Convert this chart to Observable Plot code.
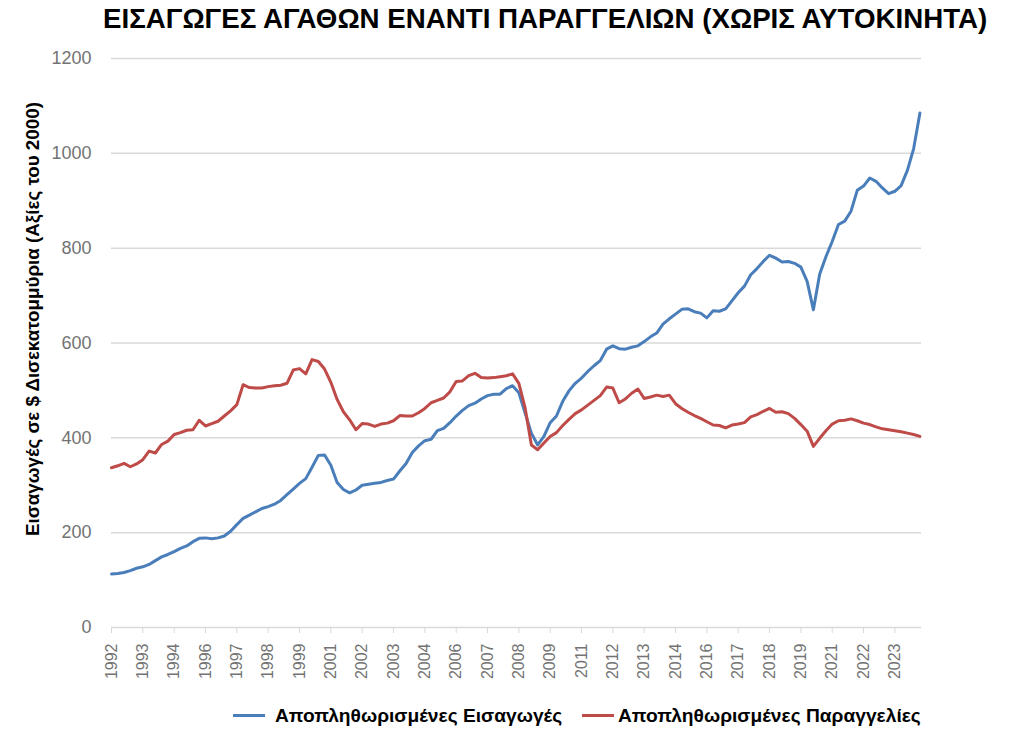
<!DOCTYPE html>
<html>
<head>
<meta charset="utf-8">
<script src="https://cdn.jsdelivr.net/npm/d3@7"></script>
<script src="https://cdn.jsdelivr.net/npm/@observablehq/plot@0.6"></script>
<style>
  body { margin: 0; background: #fff; font-family: "Liberation Sans", Arial, sans-serif; }
  #wrap { position: relative; width: 1024px; height: 744px; overflow: hidden; }
  #title { position: absolute; left: 103px; top: 5px; font-size: 27.7px; line-height: 27px; font-weight: bold; color: #000; white-space: nowrap; }
  #chart { position: absolute; left: 0; top: 45px; }
  .leg { position: absolute; top: 704px; font-size: 19.2px; line-height: 24px; font-weight: bold; color: #000; white-space: nowrap; }
  .sw { display: inline-block; width: 32px; height: 3px; vertical-align: middle; position: relative; top: -1px; }
</style>
</head>
<body>
<div id="wrap">
  <div id="title"></div>
  <div id="chart"></div>
  <div class="leg" id="leg0" style="left:233px"></div>
  <div class="leg" id="leg1" style="left:582px"></div>
</div>
<script>
// Quarterly values (2000 dollars, billions), starting 1992 Q2
const title = "ΕΙΣΑΓΩΓΕΣ ΑΓΑΘΩΝ ΕΝΑΝΤΙ ΠΑΡΑΓΓΕΛΙΩΝ (ΧΩΡΙΣ ΑΥΤΟΚΙΝΗΤΑ)";
const yTitle = "Εισαγωγές σε $ Δισεκατομμύρια (Αξίες του 2000)";
const seriesNames = ["Αποπληθωρισμένες Εισαγωγές", "Αποπληθωρισμένες Παραγγελίες"];
const seriesColors = ["#4a7ebb", "#be4b48"];

const imports = [
  113, 114, 116, 120, 125, 128, 133, 141, 149, 154,
  160, 167, 172, 181, 188, 189, 187, 189, 193, 203,
  217, 230, 237, 244, 251, 255, 260, 268, 280, 292,
  304, 314, 338, 363, 364, 342, 306, 291, 284, 290,
  300, 302, 304, 306, 310, 313, 330, 346, 369, 383,
  394, 397, 415, 420, 432, 446, 458, 468, 473, 482,
  489, 492, 492, 504, 510, 495, 452, 410, 385, 403,
  432, 446, 477, 499, 515, 526, 540, 552, 563, 587,
  594, 588, 587, 591, 594, 603, 613, 621, 640, 651,
  661, 671, 672, 666, 663, 653, 668, 667, 672, 689,
  706, 720, 744, 757, 772, 785, 779, 771, 772, 768,
  760, 730, 670, 745, 782, 814, 850, 857, 878, 922,
  931, 948, 941, 927, 915, 920, 932, 964, 1010, 1085
];

const orders = [
  337, 341, 346, 339, 345, 354, 372, 368, 386, 393,
  407, 411, 416, 417, 437, 425, 430, 435, 446, 457,
  470, 512, 506, 505, 505, 508, 510, 511, 515, 543,
  546, 535, 565, 561, 545, 517, 481, 455, 438, 417,
  430, 429, 424, 429, 431, 436, 447, 446, 446, 453,
  462, 474, 479, 484, 497, 519, 520, 531, 536, 527,
  526, 527, 529, 531, 535, 515, 463, 385, 375, 389,
  403, 411, 426, 439, 451, 459, 469, 479, 489, 507,
  505, 474, 482, 494, 503, 483, 486, 490, 487, 490,
  472, 462, 454, 447, 441, 434, 427, 426, 421, 427,
  429, 432, 444, 449, 456, 462, 454, 455, 451, 441,
  428, 414, 382, 399, 415, 429, 436, 437, 440, 436,
  431, 428, 423, 419, 417, 415, 413, 410, 407, 403
];

// one tick every 5 quarters
const tickLabels = ["1992","1993","1994","1996","1997","1998","1999","2001","2002","2003","2004","2006","2007","2008","2009","2011","2012","2013","2014","2016","2017","2018","2019","2021","2022","2023"];
const yTicks = [0, 200, 400, 600, 800, 1000, 1200];

const tickIdx = tickLabels.map((_, k) => k * 5);

document.getElementById("title").textContent = title;

const chart = Plot.plot({
  width: 1024,
  height: 642,
  marginTop: 13,
  marginBottom: 60,
  marginLeft: 111,
  marginRight: 103,
  style: { fontFamily: '"Liberation Sans", Arial, sans-serif', fontSize: "16px", background: "white", overflow: "visible" },
  x: { domain: [0, imports.length - 0.75], axis: null },
  y: { domain: [0, 1200], axis: null },
  marks: [
    Plot.gridY(yTicks, { stroke: "#d9d9d9", strokeOpacity: 1, strokeWidth: 1.5 }),
    Plot.axisY(yTicks, { tickSize: 0, tickPadding: 20, fill: "#737373", fontSize: 18, label: null, tickFormat: d => String(d) }),
    Plot.axisX(tickIdx, {
      tickSize: 6, stroke: "#d9d9d9", strokeOpacity: 1, tickRotate: -90, tickPadding: 10,
      tickFormat: d => tickLabels[d / 5], fill: "#737373", fontSize: 16, label: null
    }),
    Plot.lineY(imports, { x: (d, i) => i, y: d => d, stroke: seriesColors[0], strokeWidth: 3, strokeLinejoin: "round" }),
    Plot.lineY(orders, { x: (d, i) => i, y: d => d, stroke: seriesColors[1], strokeWidth: 3, strokeLinejoin: "round" }),
    Plot.text([yTitle], {
      frameAnchor: "left", text: d => d, rotate: -90, dx: -79, dy: -24,
      textAnchor: "middle", fontSize: 18.8, fontWeight: "bold", fill: "#000"
    })
  ]
});
document.getElementById("chart").appendChild(chart);

const gaps = [10, 4];
seriesNames.forEach((name, k) => {
  const el = document.getElementById("leg" + k);
  const sw = document.createElement("span");
  sw.className = "sw";
  sw.style.background = seriesColors[k];
  sw.style.marginRight = gaps[k] + "px";
  el.appendChild(sw);
  el.appendChild(document.createTextNode(name));
});
</script>
</body>
</html>
